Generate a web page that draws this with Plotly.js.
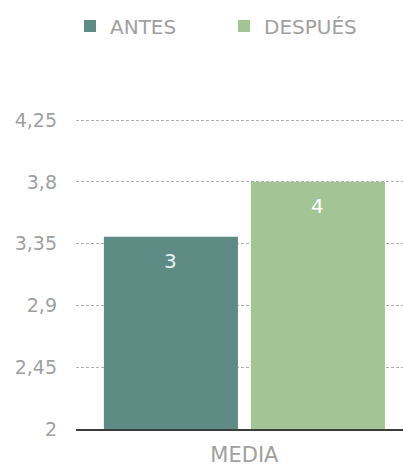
<!DOCTYPE html>
<html>
<head>
<meta charset="utf-8">
<script src="https://cdn.plot.ly/plotly-3.0.1.min.js"></script>
<style>html,body{margin:0;padding:0;background:#fff;}#chart{width:403px;height:469px;}</style>
</head>
<body>
<div id="chart"></div>
<script>
const categories = ["MEDIA"];
const seriesNames = ["ANTES", "DESPUÉS"];
const antes = [3.4];
const despues = [3.8];
const yTickVals = [2, 2.45, 2.9, 3.35, 3.8, 4.25];
const yTickText = ["2", "2,45", "2,9", "3,35", "3,8", "4,25"];
const colors = ["#5e8c84", "#a3c495"];
const labelColors = ["#e6f2f0", "#ffffff"];

const FONT = "DejaVu Sans, sans-serif";
const W = 403, H = 469;
const M = {l: 76, r: 0, t: 118, b: 40};
const BARGAP = 0.101, GROUPGAP = 0.088;
const XRANGE = [-0.515, 0.485];

const series = [antes, despues];
const data = series.map((vals, i) => ({
  type: "bar",
  name: seriesNames[i],
  x: categories,
  y: vals,
  marker: {color: colors[i]},
  textposition: "none",
  hoverinfo: "skip"
}));

// value labels inside the bars, near their top
const plotW = W - M.l - M.r;
const slotPx = plotW * (1 - BARGAP) / (XRANGE[1] - XRANGE[0]) / 2;
const annotations = [];
series.forEach((vals, i) => {
  vals.forEach((v, j) => {
    annotations.push({
      x: categories[j], y: v, xref: "x", yref: "y",
      text: String(Math.round(v)),
      showarrow: false,
      xanchor: "center", yanchor: "middle",
      xshift: (i - 0.5) * slotPx,
      yshift: -24,
      font: {family: FONT, size: 20, color: labelColors[i]}
    });
  });
});

const layout = {
  width: W, height: H,
  margin: M,
  paper_bgcolor: "#ffffff",
  plot_bgcolor: "#ffffff",
  font: {family: FONT, color: "#9a9a9a"},
  separators: ",.",
  barmode: "group",
  bargap: BARGAP,
  bargroupgap: GROUPGAP,
  showlegend: true,
  legend: {
    orientation: "h",
    xref: "container",
    x: 70 / W, xanchor: "left",
    yref: "container",
    y: 1 - 26 / H, yanchor: "middle",
    font: {family: FONT, size: 20, color: "#a0a0a0"},
    entrywidth: 109,
    entrywidthmode: "pixels",
    traceorder: "normal"
  },
  annotations: annotations,
  xaxis: {
    type: "category",
    range: XRANGE,
    showgrid: false,
    showline: true,
    linecolor: "#3c3c3c",
    linewidth: 1.5,
    ticks: "",
    ticklabelstandoff: 6,
    tickfont: {family: FONT, size: 21, color: "#a0a0a0"},
    fixedrange: true,
    zeroline: false
  },
  yaxis: {
    range: [2, 4.265],
    tickvals: yTickVals,
    ticktext: yTickText,
    showgrid: true,
    gridcolor: "#b0b0b0",
    gridwidth: 1,
    griddash: "3px,2px",
    showline: false,
    zeroline: false,
    ticks: "",
    ticklabelstandoff: 18,
    tickfont: {family: FONT, size: 19, color: "#a0a0a0"},
    fixedrange: true
  }
};

Plotly.newPlot("chart", data, layout, {displayModeBar: false, staticPlot: true});
</script>
</body>
</html>
